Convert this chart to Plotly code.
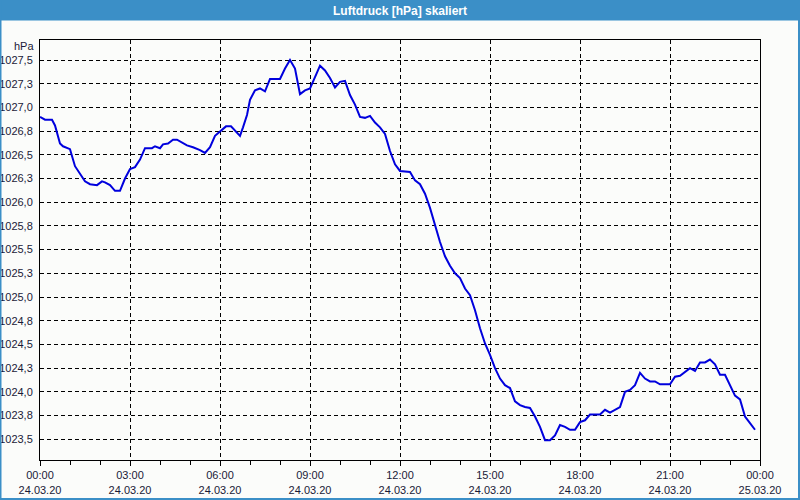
import plotly.graph_objects as go

# ---- data ----
times = ["00:00", "00:10", "00:16", "00:24", "00:30", "00:40", "00:46", "01:00", "01:10", "01:20",
         "01:30", "01:40", "01:54", "02:04", "02:10", "02:20", "02:30", "02:40", "02:50", "03:00",
         "03:10", "03:20", "03:30", "03:44", "03:50", "04:00", "04:06", "04:16", "04:26", "04:34",
         "04:44", "04:54", "05:06", "05:20", "05:30", "05:40", "05:50", "06:00", "06:12", "06:22",
         "06:32", "06:40", "06:46", "06:54", "07:00", "07:10", "07:20", "07:30", "07:40", "08:00",
         "08:10", "08:20", "08:30", "08:40", "08:50", "09:00", "09:10", "09:20", "09:30", "09:40",
         "09:50", "10:00", "10:10", "10:20", "10:30", "10:40", "10:50", "11:00", "11:10", "11:20",
         "11:30", "11:40", "11:50", "12:00", "12:20", "12:30", "12:40", "12:50", "13:00", "13:10",
         "13:20", "13:30", "13:40", "13:50", "14:00", "14:10", "14:20", "14:30", "14:40", "14:50",
         "15:00", "15:10", "15:20", "15:30", "15:40", "15:50", "16:00", "16:10", "16:20", "16:30",
         "16:40", "16:50", "17:00", "17:10", "17:20", "17:30", "17:40", "17:50", "18:00", "18:10",
         "18:20", "18:40", "18:50", "19:00", "19:10", "19:20", "19:30", "19:40", "19:50", "20:00",
         "20:10", "20:20", "20:30", "20:40", "21:00", "21:10", "21:20", "21:30", "21:40", "21:50",
         "22:00", "22:10", "22:20", "22:30", "22:40", "22:50", "23:00", "23:10", "23:20", "23:30",
         "23:40", "23:50"]
pressure = [1026.90, 1026.87, 1026.87, 1026.87, 1026.81, 1026.62, 1026.59, 1026.56, 1026.38, 1026.30,
            1026.22, 1026.19, 1026.18, 1026.22, 1026.21, 1026.18, 1026.12, 1026.12, 1026.25, 1026.35,
            1026.37, 1026.45, 1026.57, 1026.57, 1026.59, 1026.57, 1026.61, 1026.62, 1026.66, 1026.66,
            1026.63, 1026.60, 1026.58, 1026.55, 1026.52, 1026.58, 1026.70, 1026.75, 1026.80, 1026.80,
            1026.74, 1026.70, 1026.79, 1026.92, 1027.08, 1027.18, 1027.20, 1027.17, 1027.30, 1027.30,
            1027.41, 1027.50, 1027.41, 1027.14, 1027.18, 1027.20, 1027.32, 1027.44, 1027.39, 1027.31,
            1027.21, 1027.27, 1027.28, 1027.13, 1027.03, 1026.90, 1026.89, 1026.91, 1026.84, 1026.79,
            1026.72, 1026.54, 1026.40, 1026.33, 1026.32, 1026.23, 1026.19, 1026.09, 1025.94, 1025.76,
            1025.58, 1025.43, 1025.33, 1025.25, 1025.20, 1025.09, 1025.02, 1024.86, 1024.67, 1024.51,
            1024.39, 1024.25, 1024.14, 1024.07, 1024.04, 1023.90, 1023.86, 1023.84, 1023.83, 1023.74,
            1023.63, 1023.49, 1023.49, 1023.54, 1023.65, 1023.63, 1023.60, 1023.60, 1023.68, 1023.70,
            1023.76, 1023.76, 1023.81, 1023.78, 1023.81, 1023.84, 1024.00, 1024.02, 1024.07, 1024.20,
            1024.14, 1024.11, 1024.11, 1024.08, 1024.08, 1024.16, 1024.17, 1024.21, 1024.25, 1024.22,
            1024.31, 1024.31, 1024.34, 1024.29, 1024.18, 1024.18, 1024.07, 1023.96, 1023.92, 1023.74,
            1023.67, 1023.60]

y_tickvals = [1023.5, 1023.75, 1024.0, 1024.25, 1024.5, 1024.75, 1025.0, 1025.25, 1025.5,
              1025.75, 1026.0, 1026.25, 1026.5, 1026.75, 1027.0, 1027.25, 1027.5]
y_ticktext = ["1023,5", "1023,8", "1024,0", "1024,3", "1024,5", "1024,8", "1025,0", "1025,3", "1025,5",
              "1025,8", "1026,0", "1026,3", "1026,5", "1026,8", "1027,0", "1027,3", "1027,5"]

x_tickvals = ["2020-03-24 00:00", "2020-03-24 03:00", "2020-03-24 06:00", "2020-03-24 09:00",
              "2020-03-24 12:00", "2020-03-24 15:00", "2020-03-24 18:00", "2020-03-24 21:00",
              "2020-03-25 00:00"]
x_ticktext = ["00:00<br>24.03.20", "03:00<br>24.03.20", "06:00<br>24.03.20", "09:00<br>24.03.20",
              "12:00<br>24.03.20", "15:00<br>24.03.20", "18:00<br>24.03.20", "21:00<br>24.03.20",
              "00:00<br>25.03.20"]

title_text = "Luftdruck [hPa] skaliert"
unit_text = "hPa"

# ---- figure ----
W, H = 800, 500
ML, MR, MT, MB = 40, 40, 40, 40
pw, ph = W - ML - MR, H - MT - MB

def px_x(p):
    return (p - ML) / pw

def px_y(p):
    return 1 - (p - MT) / ph

x_vals = ["2020-03-24 " + t for t in times]

txt_color = "#1a1a38"
font_family = "Liberation Sans, Arial, sans-serif"

fig = go.Figure()
fig.add_trace(go.Scatter(x=x_vals, y=pressure, mode="lines",
                         line=dict(color="#0000dd", width=2), hoverinfo="skip"))

fig.update_layout(
    width=W, height=H,
    margin=dict(l=ML, r=MR, t=MT, b=MB, pad=0, autoexpand=False),
    paper_bgcolor="#fbfcfa", plot_bgcolor="#fbfcfa",
    showlegend=False,
    font=dict(family=font_family, size=11, color=txt_color),
)

fig.update_xaxes(
    type="date", automargin=False,
    range=["2020-03-24 00:00", "2020-03-25 00:00"],
    tickmode="array", tickvals=x_tickvals, ticktext=x_ticktext,
    ticks="outside", ticklen=5, tickcolor="black", tickwidth=1,
    showgrid=True, gridcolor="black", gridwidth=1, griddash="4px,3px",
    showline=True, linecolor="black", linewidth=1, mirror=True,
    zeroline=False,
    tickfont=dict(size=11, color=txt_color),
    minor=dict(dtick=3600000, tick0="2020-03-24 00:00", ticks="outside", ticklen=4,
               tickcolor="black", showgrid=False),
)

fig.update_yaxes(
    automargin=False,
    range=[1023.281, 1027.711],
    tickmode="array", tickvals=y_tickvals, ticktext=y_ticktext,
    ticks="", ticklabelstandoff=4,
    showgrid=True, gridcolor="black", gridwidth=1, griddash="4px,3px",
    showline=True, linecolor="black", linewidth=1, mirror=True,
    zeroline=False,
    tickfont=dict(size=11, color=txt_color),
)

# title bar and window border
fig.add_shape(type="rect", xref="paper", yref="paper",
              x0=px_x(0), x1=px_x(W), y0=px_y(20.5), y1=px_y(-2),
              fillcolor="#3b8fc7", line=dict(width=0), layer="above")
fig.add_shape(type="rect", xref="paper", yref="paper",
              x0=px_x(0.5), x1=px_x(W - 1), y0=px_y(H - 1), y1=px_y(0),
              fillcolor="rgba(0,0,0,0)", line=dict(color="#3b8fc7", width=2), layer="above")

fig.add_annotation(text="<b>" + title_text + "</b>", xref="paper", yref="paper",
                   x=0.5, y=px_y(10.5), xanchor="center", yanchor="middle", showarrow=False,
                   font=dict(family=font_family, size=12, color="white"))
fig.add_annotation(text=unit_text, xref="paper", yref="paper",
                   x=px_x(36), y=px_y(46), xanchor="right", yanchor="middle", showarrow=False,
                   font=dict(family=font_family, size=11, color=txt_color))

fig.write_html("out.html")
